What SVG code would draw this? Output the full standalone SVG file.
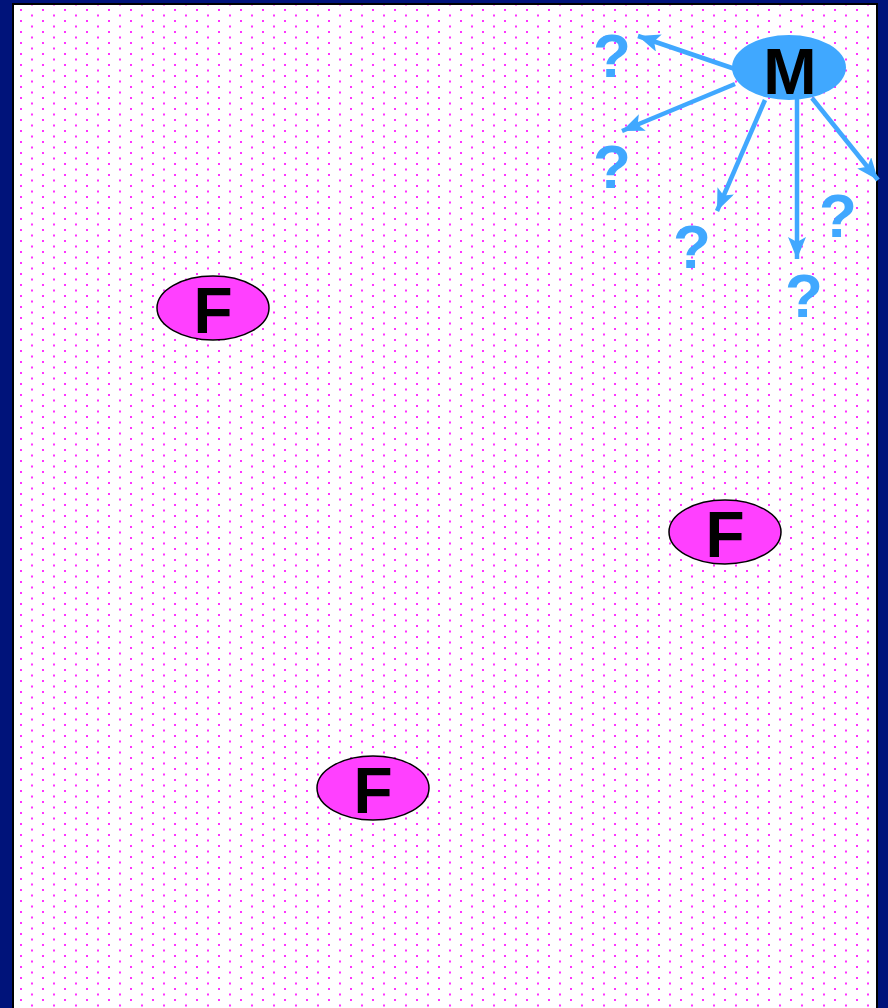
<svg xmlns="http://www.w3.org/2000/svg" width="888" height="1008" viewBox="0 0 888 1008">
  <defs>
    <pattern id="dots" patternUnits="userSpaceOnUse" x="20" y="9" width="22" height="11">
      <rect x="0" y="0" width="2" height="2" fill="#FF33FF"/>
      <rect x="11" y="5.5" width="2" height="2" fill="#FF33FF"/>
    </pattern>
    <marker id="ah" markerUnits="userSpaceOnUse" markerWidth="24" markerHeight="20" refX="22" refY="9" orient="auto">
      <path d="M0,0 L22,9 L0,18 L5,9 Z" fill="#40A8FF"/>
    </marker>
    <style>
      .fnode { fill: #FF40FF; stroke: #000; stroke-width: 1.5; }
      .mnode { fill: #40A8FF; }
      .lbl { font-family: "Liberation Sans", Arial, sans-serif; font-weight: bold; font-size: 64px; fill: #000; text-anchor: middle; }
      .q { font-family: "Liberation Sans", Arial, sans-serif; font-weight: bold; font-size: 62px; fill: #40A8FF; text-anchor: middle; }
      .conn { stroke: #40A8FF; stroke-width: 4.5; fill: none; marker-end: url(#ah); }
    </style>
  </defs>
  <rect x="0" y="0" width="888" height="1008" fill="#00137A"/>
  <rect x="13" y="4" width="864" height="1010" fill="#FFFFFF" stroke="#000" stroke-width="2"/>
  <rect x="14" y="5" width="862" height="1003" fill="url(#dots)"/>

  <g id="connectors">
    <line class="conn" x1="735" y1="69" x2="638" y2="36"/>
    <line class="conn" x1="735" y1="84" x2="622" y2="131"/>
    <line class="conn" x1="765" y1="100" x2="717" y2="211"/>
    <line class="conn" x1="797" y1="99" x2="797" y2="259"/>
    <line class="conn" x1="812" y1="98" x2="878" y2="180"/>
  </g>

  <g id="node-M">
    <ellipse class="mnode" cx="789" cy="67.5" rx="57" ry="32.5"/>
    <text class="lbl" x="790" y="94">M</text>
  </g>
  <g id="q1"><text class="q" x="612" y="77">?</text></g>
  <g id="q2"><text class="q" x="612" y="188">?</text></g>
  <g id="q3"><text class="q" x="692" y="268">?</text></g>
  <g id="q4"><text class="q" x="804" y="317">?</text></g>
  <g id="q5"><text class="q" x="838" y="237">?</text></g>

  <g id="node-F1">
    <ellipse class="fnode" cx="213" cy="308" rx="56" ry="32"/>
    <text class="lbl" x="213" y="333">F</text>
  </g>
  <g id="node-F2">
    <ellipse class="fnode" cx="725" cy="532" rx="56" ry="32"/>
    <text class="lbl" x="725" y="557">F</text>
  </g>
  <g id="node-F3">
    <ellipse class="fnode" cx="373" cy="788" rx="56" ry="32"/>
    <text class="lbl" x="373" y="813">F</text>
  </g>
</svg>
